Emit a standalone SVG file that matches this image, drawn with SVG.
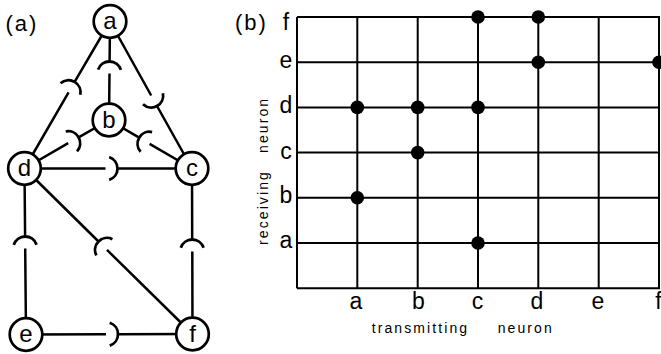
<svg xmlns="http://www.w3.org/2000/svg" xmlns:xlink="http://www.w3.org/1999/xlink" width="661" height="354" viewBox="0 0 661 354">
<style>
  .edge{stroke:#000;stroke-width:2.5;fill:none;stroke-linecap:butt}
  .syn{stroke:#000;stroke-width:2.8;fill:none;stroke-linecap:butt}
  .node circle{fill:#fff;stroke:#000;stroke-width:2.7}
  .nl{font-family:"Liberation Sans",Arial,sans-serif;font-size:24px;text-anchor:middle;fill:#000}
  .grid{stroke:#000;stroke-width:2;fill:none}
  .dot{fill:#000}
  .lbl{font-family:"Liberation Sans",Arial,sans-serif;font-size:23px;text-anchor:middle;fill:#000}
  .panel{font-family:"Liberation Sans",Arial,sans-serif;font-size:22px;letter-spacing:2px;fill:#000}
  .axis{font-family:"Liberation Sans",Arial,sans-serif;font-size:14px;letter-spacing:2.1px;fill:#000}
</style>
<defs>
  <path id="syn" class="syn" d="M8.29,11.41 A12,12 0 0 1 8.29,-11.41"/>
</defs>
<rect width="661" height="354" fill="#fff"/>

<text class="panel" x="5.5" y="31">(a)</text>
<text class="panel" x="235" y="30">(b)</text>

<g id="connectors">
  <!-- a -> b -->
  <path class="edge" d="M110,21.5 L109.6,61.5 M109.5,73.5 L109,120"/>
  <use xlink:href="#syn" href="#syn" transform="translate(109.6,61.5) rotate(90.6)"/>
  <!-- c -> a -->
  <path class="edge" d="M192,168.5 L157,106 M151.2,95.5 L110,21.5"/>
  <use xlink:href="#syn" href="#syn" transform="translate(157,106) rotate(-119.2)"/>
  <!-- a -> d -->
  <path class="edge" d="M110,21.5 L74.6,81.9 M68.6,92.3 L24.5,168.5"/>
  <use xlink:href="#syn" href="#syn" transform="translate(74.6,81.9) rotate(120.3)"/>
  <!-- b -> d -->
  <path class="edge" d="M109,120 L78.6,137.3 M68.2,143.2 L24.5,168.5"/>
  <use xlink:href="#syn" href="#syn" transform="translate(78.6,137.3) rotate(150.3)"/>
  <!-- b -> c -->
  <path class="edge" d="M109,120 L139.2,137.7 M149.6,143.8 L192,168.5"/>
  <use xlink:href="#syn" href="#syn" transform="translate(139.2,137.7) rotate(30.3)"/>
  <!-- c -> d -->
  <path class="edge" d="M192,168.5 L117.5,168.5 M105.5,168.5 L24.5,168.5"/>
  <use xlink:href="#syn" href="#syn" transform="translate(117.5,168.5) rotate(180)"/>
  <!-- d -> e -->
  <path class="edge" d="M24.5,168.5 L25.1,236.5 M25.2,248.5 L26,334.5"/>
  <use xlink:href="#syn" href="#syn" transform="translate(25.1,236.5) rotate(89.5)"/>
  <!-- d -> f -->
  <path class="edge" d="M24.5,168.5 L98.5,241.5 M107,249.9 L192.5,334"/>
  <use xlink:href="#syn" href="#syn" transform="translate(98.5,241.5) rotate(44.6)"/>
  <!-- c -> f -->
  <path class="edge" d="M192,168.5 L192.2,239.5 M192.3,251.5 L192.5,334"/>
  <use xlink:href="#syn" href="#syn" transform="translate(192.2,239.5) rotate(90)"/>
  <!-- f -> e -->
  <path class="edge" d="M192.5,334 L118,334.2 M106,334.3 L26,334.5"/>
  <use xlink:href="#syn" href="#syn" transform="translate(118,334.2) rotate(180)"/>
</g>

<g id="node-a" class="node"><circle cx="110" cy="21.5" r="16.3"/><text class="nl" x="110" y="29">a</text></g>
<g id="node-b" class="node"><circle cx="109" cy="120" r="16.3"/><text class="nl" x="109" y="127.5">b</text></g>
<g id="node-c" class="node"><circle cx="192" cy="168.5" r="16.3"/><text class="nl" x="192" y="176">c</text></g>
<g id="node-d" class="node"><circle cx="24.5" cy="168.5" r="16.3"/><text class="nl" x="24.5" y="176">d</text></g>
<g id="node-e" class="node"><circle cx="26" cy="334.5" r="16.3"/><text class="nl" x="26" y="342">e</text></g>
<g id="node-f" class="node"><circle cx="192.5" cy="334" r="16.3"/><text class="nl" x="192.5" y="341.5">f</text></g>

<g id="matrix">
  <path class="grid" d="M297,17 H660 M297,62.2 H660 M297,107.4 H660 M297,152.6 H660 M297,197.8 H660 M297,243 H660 M297,288.2 H660
    M297,17 V288.2 M357.3,17 V288.2 M417.7,17 V288.2 M478,17 V288.2 M538.3,17 V288.2 M598.7,17 V288.2 M659,17 V288.2"/>
  <circle class="dot" cx="478" cy="17" r="6.8"/>
  <circle class="dot" cx="538.3" cy="17" r="6.8"/>
  <circle class="dot" cx="538.3" cy="62.2" r="6.8"/>
  <circle class="dot" cx="659" cy="62.2" r="6.8"/>
  <circle class="dot" cx="357.3" cy="107.4" r="6.8"/>
  <circle class="dot" cx="417.7" cy="107.4" r="6.8"/>
  <circle class="dot" cx="478" cy="107.4" r="6.8"/>
  <circle class="dot" cx="417.7" cy="152.6" r="6.8"/>
  <circle class="dot" cx="357.3" cy="197.8" r="6.8"/>
  <circle class="dot" cx="478" cy="243" r="6.8"/>

  <text class="lbl" x="286" y="30">f</text>
  <text class="lbl" x="286" y="68">e</text>
  <text class="lbl" x="286" y="113">d</text>
  <text class="lbl" x="286" y="158.5">c</text>
  <text class="lbl" x="286" y="203.3">b</text>
  <text class="lbl" x="286" y="247.5">a</text>

  <text class="lbl" x="356" y="309.3">a</text>
  <text class="lbl" x="418.3" y="309.3">b</text>
  <text class="lbl" x="477.5" y="309.3">c</text>
  <text class="lbl" x="537" y="309.3">d</text>
  <text class="lbl" x="598" y="309.3">e</text>
  <text class="lbl" x="658.5" y="309.3">f</text>

  <text class="axis" y="332.7"><tspan x="371.7">transmitting</tspan><tspan x="491.7"> neuron</tspan></text>
  <text class="axis" transform="translate(267.5,245) rotate(-90)"><tspan x="0">receiving</tspan><tspan x="86"> neuron</tspan></text>
</g>
</svg>
